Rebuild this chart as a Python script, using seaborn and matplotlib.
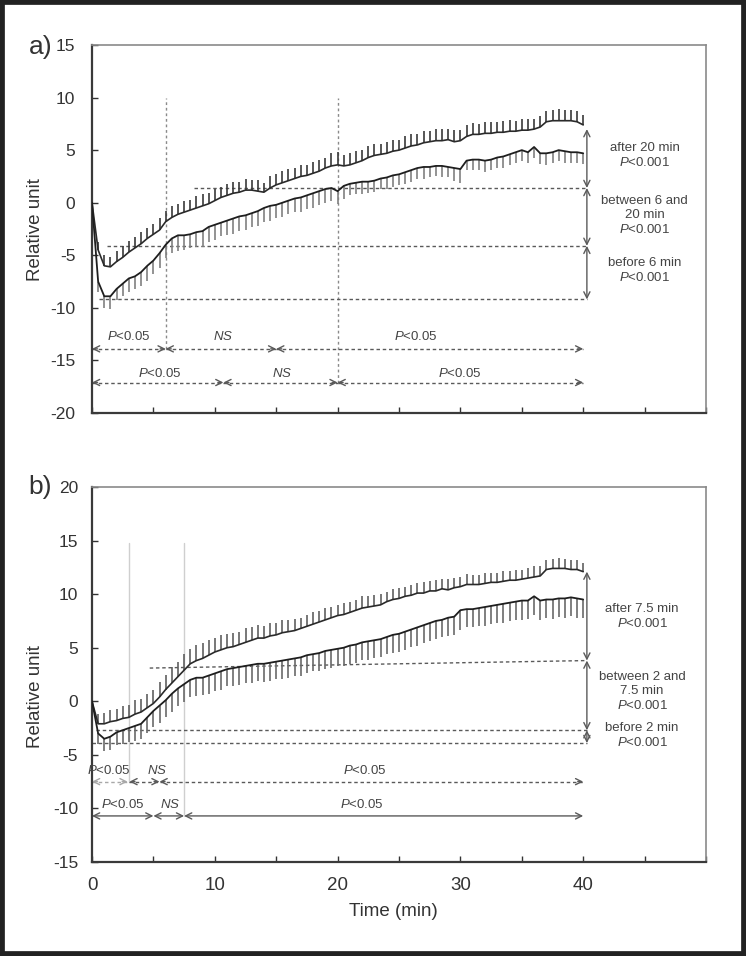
import matplotlib
matplotlib.use("Agg")
import matplotlib.pyplot as plt
import numpy as np
import pandas as pd
import seaborn as sns
from matplotlib.patches import Rectangle

# sampling grid: every 0.5 min from 0 to 40 min
time_min = np.arange(0, 40.5, 0.5)

# panel a) upper series (error bars up) and lower series (error bars down)
a_upper = [0.0, -4.5, -6.0, -6.1, -5.6, -5.2, -4.7, -4.3, -3.9, -3.4,
           -3.0, -2.6, -1.8, -1.4, -1.1, -0.9, -0.7, -0.5, -0.3, -0.1,
           0.2, 0.5, 0.7, 0.9, 1.0, 1.2, 1.2, 1.1, 1.0, 1.4,
           1.7, 1.9, 2.1, 2.3, 2.5, 2.6, 2.8, 3.0, 3.3, 3.5,
           3.6, 3.5, 3.6, 3.8, 4.0, 4.3, 4.5, 4.6, 4.7, 4.9,
           5.0, 5.2, 5.4, 5.5, 5.7, 5.8, 5.9, 5.9, 6.0, 5.8,
           5.9, 6.3, 6.5, 6.5, 6.6, 6.6, 6.7, 6.7, 6.8, 6.8,
           6.9, 6.9, 7.0, 7.2, 7.7, 7.8, 7.8, 7.8, 7.8, 7.7,
           7.4]
a_upper_err = [0.0, 0.8, 1.0, 0.9, 1.0, 1.1, 1.1, 1.0, 1.1, 1.0,
               1.0, 1.1, 1.0, 1.1, 1.0, 1.1, 1.0, 1.1, 1.1, 1.0,
               1.1, 1.0, 1.1, 1.1, 1.0, 1.1, 1.0, 1.1, 0.9, 1.1,
               1.0, 1.1, 1.1, 1.0, 1.1, 1.0, 1.1, 1.1, 1.0, 1.2,
               1.2, 1.0, 1.1, 1.1, 1.0, 1.1, 1.1, 1.0, 1.1, 1.1,
               1.0, 1.1, 1.1, 1.0, 1.1, 1.0, 1.1, 1.1, 1.0, 1.1,
               1.0, 1.1, 1.1, 1.0, 1.1, 1.1, 1.0, 1.1, 1.1, 1.0,
               1.1, 1.1, 1.0, 1.0, 1.0, 1.0, 1.1, 1.0, 1.0, 1.0,
               0.9]
a_lower = [0.0, -7.5, -8.9, -8.9, -8.2, -7.7, -7.2, -7.0, -6.6, -6.0,
           -5.5, -4.8, -4.0, -3.4, -3.1, -3.1, -3.0, -2.8, -2.7, -2.3,
           -2.1, -1.9, -1.7, -1.5, -1.3, -1.2, -1.0, -0.8, -0.5, -0.3,
           -0.2, 0.0, 0.2, 0.4, 0.5, 0.7, 0.9, 1.1, 1.3, 1.4,
           1.1, 1.6, 1.8, 1.9, 2.0, 2.0, 2.1, 2.3, 2.4, 2.6,
           2.7, 2.9, 3.1, 3.3, 3.4, 3.4, 3.5, 3.5, 3.4, 3.3,
           3.2, 4.0, 4.1, 4.1, 4.0, 4.1, 4.3, 4.4, 4.6, 4.8,
           5.0, 4.8, 5.3, 4.7, 4.7, 4.8, 5.0, 4.9, 4.8, 4.8,
           4.7]
a_lower_err = [0.0, 1.0, 1.1, 1.2, 1.1, 1.2, 1.3, 1.2, 1.3, 1.4,
               1.3, 1.4, 1.3, 1.4, 1.5, 1.4, 1.3, 1.4, 1.5, 1.4,
               1.4, 1.3, 1.4, 1.5, 1.4, 1.4, 1.3, 1.4, 1.3, 1.4,
               1.3, 1.4, 1.3, 1.3, 1.4, 1.3, 1.4, 1.3, 1.3, 1.2,
               1.2, 1.2, 1.1, 1.1, 1.2, 1.1, 1.1, 1.0, 1.1, 1.1,
               1.0, 1.1, 1.1, 1.0, 1.1, 1.0, 1.0, 1.1, 1.0, 1.2,
               1.3, 0.9, 1.0, 1.0, 1.1, 1.0, 1.0, 1.1, 1.0, 1.0,
               1.0, 1.0, 1.0, 1.0, 1.1, 1.0, 1.0, 1.1, 1.0, 1.0,
               1.0]

# panel b)
b_upper = [0.0, -2.1, -2.1, -1.9, -1.8, -1.6, -1.5, -1.2, -1.0, -0.6,
           -0.2, 0.4, 1.1, 1.7, 2.3, 2.9, 3.5, 3.8, 4.0, 4.3,
           4.6, 4.8, 5.0, 5.1, 5.3, 5.5, 5.7, 5.9, 5.9, 6.1,
           6.2, 6.4, 6.5, 6.6, 6.8, 7.0, 7.2, 7.4, 7.6, 7.8,
           8.0, 8.1, 8.3, 8.5, 8.7, 8.8, 8.9, 9.0, 9.3, 9.5,
           9.6, 9.8, 9.9, 10.1, 10.1, 10.3, 10.3, 10.5, 10.4, 10.6,
           10.7, 10.9, 10.9, 10.9, 11.0, 11.1, 11.1, 11.2, 11.3, 11.3,
           11.4, 11.5, 11.6, 11.7, 12.3, 12.4, 12.4, 12.4, 12.3, 12.3,
           12.1]
b_upper_err = [0.0, 0.9, 1.0, 1.1, 1.1, 1.2, 1.2, 1.3, 1.2, 1.3,
               1.3, 1.4, 1.4, 1.5, 1.4, 1.5, 1.4, 1.5, 1.4, 1.4,
               1.3, 1.4, 1.3, 1.3, 1.2, 1.3, 1.2, 1.2, 1.1, 1.2,
               1.1, 1.2, 1.1, 1.1, 1.0, 1.1, 1.1, 1.0, 1.1, 1.0,
               1.0, 1.1, 1.0, 1.0, 1.1, 1.0, 1.0, 1.0, 0.9, 1.0,
               1.0, 0.9, 1.0, 0.9, 1.0, 0.9, 1.0, 0.9, 1.0, 0.9,
               0.9, 1.0, 0.9, 0.9, 1.0, 0.9, 0.9, 1.0, 0.9, 1.0,
               0.9, 0.9, 1.0, 0.9, 0.9, 0.9, 1.0, 0.9, 0.9, 0.9,
               0.8]
b_lower = [0.0, -3.0, -3.5, -3.3, -2.9, -2.7, -2.5, -2.3, -2.1, -1.5,
           -0.9, -0.4, 0.1, 0.7, 1.2, 1.6, 2.0, 2.2, 2.2, 2.4,
           2.6, 2.8, 3.0, 3.1, 3.2, 3.3, 3.4, 3.5, 3.5, 3.6,
           3.7, 3.8, 3.9, 4.0, 4.1, 4.3, 4.4, 4.5, 4.7, 4.8,
           4.9, 5.0, 5.2, 5.3, 5.5, 5.6, 5.7, 5.8, 6.0, 6.2,
           6.3, 6.5, 6.7, 6.9, 7.1, 7.3, 7.5, 7.6, 7.8, 7.9,
           8.5, 8.6, 8.6, 8.7, 8.8, 8.9, 9.0, 9.1, 9.2, 9.3,
           9.4, 9.4, 9.8, 9.4, 9.5, 9.5, 9.6, 9.6, 9.7, 9.6,
           9.5]
b_lower_err = [0.0, 1.0, 1.1, 1.2, 1.2, 1.3, 1.3, 1.4, 1.4, 1.5,
               1.5, 1.6, 1.6, 1.7, 1.6, 1.7, 1.6, 1.7, 1.6, 1.7,
               1.6, 1.7, 1.6, 1.7, 1.7, 1.6, 1.7, 1.6, 1.7, 1.7,
               1.6, 1.7, 1.7, 1.6, 1.7, 1.7, 1.6, 1.7, 1.7, 1.7,
               1.6, 1.7, 1.7, 1.7, 1.6, 1.7, 1.7, 1.7, 1.6, 1.7,
               1.7, 1.7, 1.6, 1.7, 1.7, 1.7, 1.7, 1.6, 1.7, 1.7,
               1.8, 1.7, 1.7, 1.7, 1.8, 1.7, 1.7, 1.8, 1.7, 1.7,
               1.8, 1.7, 1.7, 1.8, 1.7, 1.8, 1.7, 1.8, 1.7, 1.8,
               1.7]

# period comparison annotations
a_levels = [7.0, 1.4, -4.1, -9.2]
a_level_starts = [8.3, 1.2, 0.6]
a_level_texts = ["after 20 min\n$P$<0.001", "between 6 and\n20 min\n$P$<0.001", "before 6 min\n$P$<0.001"]
a_level_text_y = [4.45, -1.2, -6.4]
a_row1_bounds = [0, 6, 15, 40]
a_row1_labels = ["$P$<0.05", "$NS$", "$P$<0.05"]
a_row1_label_x = [3.0, 10.7, 26.4]
a_row2_bounds = [0, 10.7, 20, 40]
a_row2_labels = ["$P$<0.05", "$NS$", "$P$<0.05"]
a_row2_label_x = [5.5, 15.5, 30.0]

b_levels = [12.1, 3.8, -2.7, -3.9]
b_level_texts = ["after 7.5 min\n$P$<0.001", "between 2 and\n7.5 min\n$P$<0.001", "before 2 min\n$P$<0.001"]
b_level_text_y = [7.9, 0.9, -3.2]
b_row1_bounds = [0, 2.9, 5.5, 40]
b_row1_labels = ["$P$<0.05", "$NS$", "$P$<0.05"]
b_row1_label_x = [1.4, 5.3, 22.2]
b_row2_bounds = [0, 5.0, 7.5, 40]
b_row2_labels = ["$P$<0.05", "$NS$", "$P$<0.05"]
b_row2_label_x = [2.5, 6.4, 22.0]

sns.set_style("ticks")
plt.rcParams["font.family"] = ["Liberation Sans", "DejaVu Sans"]
plt.rcParams["mathtext.fontset"] = "custom"
plt.rcParams["mathtext.rm"] = "Liberation Sans"
plt.rcParams["mathtext.it"] = "Liberation Sans:italic"
plt.rcParams["axes.unicode_minus"] = False

TXT = "#444444"
ARW = "#5a5a5a"
DASH = (2.5, 2.0)


def arrow_head(ax, x, y, dx, dy, color=ARW):
    ax.annotate("", xy=(x, y), xytext=(x - dx, y - dy),
                arrowprops=dict(arrowstyle="->", color=color, lw=1.0,
                                shrinkA=0, shrinkB=0, mutation_scale=11))


def dashed_span(ax, x0, x1, y, color=ARW):
    ax.plot([x0, x1], [y, y], color=color, lw=1.0, dashes=DASH)
    arrow_head(ax, x0, y, -0.45, 0, color)
    arrow_head(ax, x1, y, 0.45, 0, color)


def solid_span(ax, x0, x1, y, color=ARW):
    ax.annotate("", xy=(x1, y), xytext=(x0, y),
                arrowprops=dict(arrowstyle="<->", color=color, lw=1.0,
                                shrinkA=0, shrinkB=0, mutation_scale=11))


def vert_arrow(ax, x, y0, y1):
    ax.annotate("", xy=(x, y1), xytext=(x, y0),
                arrowprops=dict(arrowstyle="<->", color=ARW, lw=1.0,
                                shrinkA=0, shrinkB=0, mutation_scale=11))


def draw_series(ax, upper, upper_err, lower, lower_err, up_bar_col, low_bar_col):
    zeros = np.zeros(len(time_min))
    ax.errorbar(time_min, upper, yerr=[zeros, upper_err], fmt="none",
                ecolor=up_bar_col, elinewidth=1.2, capsize=0, zorder=2)
    ax.errorbar(time_min, lower, yerr=[lower_err, zeros], fmt="none",
                ecolor=low_bar_col, elinewidth=1.2, capsize=0, zorder=2)
    df = pd.DataFrame({"t": time_min, "upper": upper, "lower": lower})
    sns.lineplot(data=df, x="t", y="upper", ax=ax, color="#2a2a2a", lw=1.2, zorder=3)
    sns.lineplot(data=df, x="t", y="lower", ax=ax, color="#1e1e1e", lw=1.3, zorder=3)


def style_axes(ax, ylim, ypad, show_xlabels):
    ax.set_xlim(0, 50)
    ax.set_ylim(*ylim)
    ax.set_yticks(np.arange(ylim[0], ylim[1] + 1, 5))
    ax.set_xticks(np.arange(0, 51, 5))
    if show_xlabels:
        ax.set_xticklabels(["0", "", "10", "", "20", "", "30", "", "40", "", ""])
    else:
        ax.set_xticklabels([])
    ax.set_xlabel("")
    ax.set_ylabel("")
    ax.tick_params(axis="both", direction="in", length=4, width=1.0, color="#333333",
                   labelcolor="#333333")
    ax.tick_params(axis="y", labelsize=12.5, pad=ypad)
    ax.tick_params(axis="x", labelsize=13.5, pad=11)
    for side in ["left", "bottom"]:
        ax.spines[side].set_color("#3a3a3a")
        ax.spines[side].set_linewidth(1.6)
    for side in ["top", "right"]:
        ax.spines[side].set_visible(True)
        ax.spines[side].set_color("#8a8a8a")
        ax.spines[side].set_linewidth(1.2)


fig = plt.figure(figsize=(7.46, 9.56), dpi=100)
ax_a = fig.add_axes([92 / 746, 1 - 413 / 956, 614 / 746, 368 / 956])
ax_b = fig.add_axes([92 / 746, 1 - 862 / 956, 614 / 746, 375 / 956])

# ---------- panel a ----------
ax = ax_a
for tx, ybot in [(6, -13.9), (20, -17.1)]:
    ax.plot([tx, tx], [ybot, 10], color="#8a8a8a", lw=1.0, dashes=(2, 2), zorder=1)
for lvl, x0 in zip(a_levels[1:], a_level_starts):
    ax.plot([x0, 40.3], [lvl, lvl], color=ARW, lw=1.0, dashes=DASH, zorder=1)
draw_series(ax, a_upper, a_upper_err, a_lower, a_lower_err, "#3a3a3a", "#808080")
for top, bot in zip(a_levels[:-1], a_levels[1:]):
    vert_arrow(ax, 40.3, bot, top)
for txt, ty in zip(a_level_texts, a_level_text_y):
    ax.text(45.0, ty, txt, ha="center", va="center", fontsize=9.5, color=TXT, linespacing=1.2)
for i in range(3):
    dashed_span(ax, a_row1_bounds[i], a_row1_bounds[i + 1], -13.9)
    ax.text(a_row1_label_x[i], -12.7, a_row1_labels[i], ha="center", va="center",
            fontsize=9.5, color=TXT)
    dashed_span(ax, a_row2_bounds[i], a_row2_bounds[i + 1], -17.1)
    ax.text(a_row2_label_x[i], -16.2, a_row2_labels[i], ha="center", va="center",
            fontsize=9.5, color=TXT)
style_axes(ax, (-20, 15), 12, False)

# ---------- panel b ----------
ax = ax_b
ax.plot([3, 3], [-7.5, 14.8], color="#cfcfcf", lw=1.0, zorder=1)
ax.plot([7.5, 7.5], [-10.7, 14.8], color="#cfcfcf", lw=1.0, zorder=1)
ax.plot([4.7, 40.3], [3.1, 3.8], color=ARW, lw=1.0, dashes=DASH, zorder=1)
ax.plot([0.3, 40.3], [-2.7, -2.7], color=ARW, lw=1.0, dashes=DASH, zorder=1)
ax.plot([0.0, 40.3], [-3.9, -3.9], color=ARW, lw=1.0, dashes=DASH, zorder=1)
draw_series(ax, b_upper, b_upper_err, b_lower, b_lower_err, "#606060", "#6a6a6a")
for top, bot in zip(b_levels[:-1], b_levels[1:]):
    vert_arrow(ax, 40.3, bot, top)
for txt, ty in zip(b_level_texts, b_level_text_y):
    ax.text(44.8, ty, txt, ha="center", va="center", fontsize=9.5, color=TXT, linespacing=1.2)
for i in range(3):
    col = "#a8a8a8" if i == 0 else ARW
    dashed_span(ax, b_row1_bounds[i] + (0.15 if i == 1 else 0), b_row1_bounds[i + 1], -7.5, col)
    ax.text(b_row1_label_x[i], -6.5, b_row1_labels[i], ha="center", va="center",
            fontsize=9.5, color=TXT)
    solid_span(ax, b_row2_bounds[i], b_row2_bounds[i + 1], -10.7)
    ax.text(b_row2_label_x[i], -9.6, b_row2_labels[i], ha="center", va="center",
            fontsize=9.5, color=TXT)
style_axes(ax, (-15, 20), 10, True)

# labels
fig.text(36 / 746, 1 - 230 / 956, "Relative unit", rotation=90, ha="center", va="center",
         fontsize=13.5, color="#333333")
fig.text(36 / 746, 1 - 697 / 956, "Relative unit", rotation=90, ha="center", va="center",
         fontsize=13.5, color="#333333")
fig.text(393 / 746, 1 - 912 / 956, "Time (min)", ha="center", va="center",
         fontsize=13.5, color="#333333")
fig.text(41 / 746, 1 - 47 / 956, "a)", ha="center", va="center", fontsize=19, color="#333333")
fig.text(40 / 746, 1 - 487 / 956, "b)", ha="center", va="center", fontsize=19, color="#333333")

fig.patches.append(Rectangle((0, 0), 1, 1, transform=fig.transFigure, fill=False,
                             edgecolor="#222222", lw=7, clip_on=False))

fig.savefig("out.png", dpi=100)
plt.close(fig)
